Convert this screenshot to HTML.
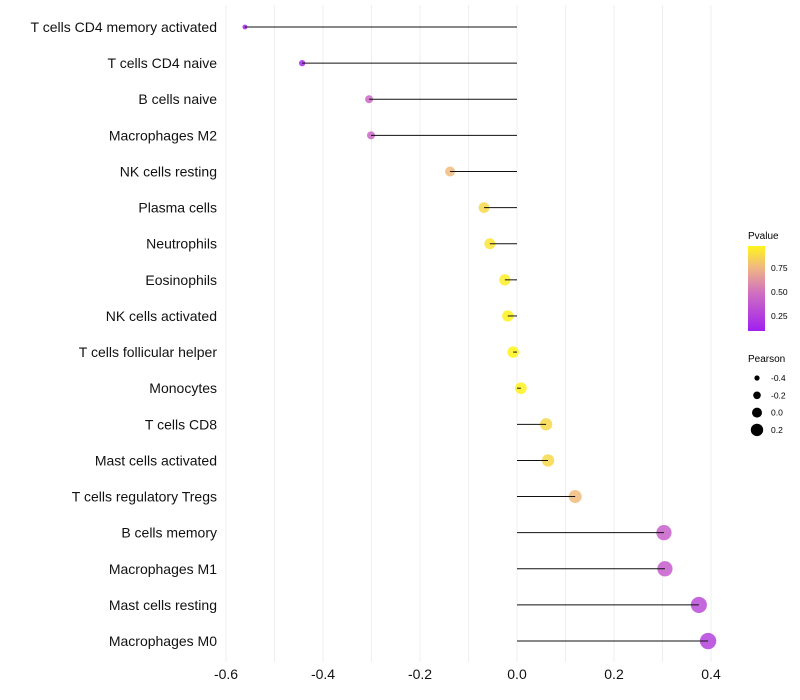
<!DOCTYPE html>
<html><head><meta charset="utf-8"><style>
body{margin:0;background:#fff;font-family:"Liberation Sans",sans-serif;}
svg{display:block}
</style></head><body>
<svg id="chart" width="800" height="700" xmlns="http://www.w3.org/2000/svg">
<defs><linearGradient id="pg" x1="0" y1="1" x2="0" y2="0">
<stop offset="0" stop-color="#a020f0"/><stop offset="0.45" stop-color="#d070c0"/><stop offset="0.75" stop-color="#f0b880"/><stop offset="1" stop-color="#fff51a"/></linearGradient></defs>
<g id="grid"></g><g id="marks"></g><g id="labels"></g>
<g>
<text x="748" y="239" font-size="10">Pvalue</text>
<rect x="748" y="246" width="17" height="85" fill="url(#pg)"/>
<text x="771" y="271" font-size="8.5">0.75</text>
<text x="771" y="295" font-size="8.5">0.50</text>
<text x="771" y="319" font-size="8.5">0.25</text>
</g>
<g id="sizeleg">
<text x="748" y="362" font-size="10">Pearson</text>
</g>
</svg>
<script>
const categories=["T cells CD4 memory activated","T cells CD4 naive","B cells naive","Macrophages M2","NK cells resting","Plasma cells","Neutrophils","Eosinophils","NK cells activated","T cells follicular helper","Monocytes","T cells CD8","Mast cells activated","T cells regulatory  Tregs","B cells memory","Macrophages M1","Mast cells resting","Macrophages M0"];
const pearson=[-0.561,-0.443,-0.305,-0.301,-0.138,-0.068,-0.056,-0.025,-0.019,-0.008,0.008,0.060,0.064,0.120,0.303,0.305,0.375,0.394];
const pvalue=[0.10,0.15,0.45,0.45,0.76,0.87,0.92,0.95,0.97,0.98,0.97,0.87,0.87,0.76,0.42,0.40,0.32,0.27];
const xTicks=[-0.6,-0.4,-0.2,0.0,0.2,0.4];
const sizeLegend=[-0.4,-0.2,0.0,0.2];
const NS="http://www.w3.org/2000/svg";
const xs=v=>517+v*485;
const ys=i=>27+i*36.12;
const rs=v=>5.8+v*6;
function col(p){
 const st=[[0.1,[160,32,240]],[0.5,[208,112,192]],[0.75,[240,184,128]],[0.98,[255,245,26]]];
 if(p<=st[0][0])return`rgb(${st[0][1]})`;
 for(let k=1;k<st.length;k++){if(p<=st[k][0]){const t=(p-st[k-1][0])/(st[k][0]-st[k-1][0]);const c=st[k-1][1].map((a,j)=>Math.round(a+(st[k][1][j]-a)*t));return`rgb(${c})`;}}
 return`rgb(${st[3][1]})`;}
function mk(t,a,p){const e=document.createElementNS(NS,t);for(const k in a)e.setAttribute(k,a[k]);p.appendChild(e);return e;}
const grid=document.getElementById('grid'),marks=document.getElementById('marks'),labels=document.getElementById('labels');
for(let v=-0.6;v<=0.41;v+=0.1){const l=mk('line',{x1:xs(v),x2:xs(v),y1:5,y2:662,stroke:'#efefef','stroke-width':1},grid);

}
xTicks.forEach(v=>{const t=mk('text',{x:xs(v),y:679,'font-size':14,'text-anchor':'middle',fill:'#111'},labels);t.textContent=v.toFixed(1);

});
categories.forEach((c,i)=>{const y=ys(i);
const t=mk('text',{x:217,y:y+5,'font-size':14,'text-anchor':'end',fill:'#111'},labels);t.textContent=c;


const d=mk('circle',{cx:xs(pearson[i]),cy:y,r:rs(pearson[i]),fill:col(pvalue[i]),'fill-opacity':0.85},marks);


const l=mk('line',{x1:xs(0),x2:xs(pearson[i]),y1:y,y2:y,stroke:'#111','stroke-width':1},marks);

});
const sl=document.getElementById('sizeleg');
sizeLegend.forEach((v,i)=>{const y=378+i*17.3;
const c=mk('circle',{cx:757,cy:y,r:rs(v)-0.8,fill:'#000'},sl);


const t=mk('text',{x:771,y:y+3,'font-size':8.5},sl);t.textContent=v.toFixed(1);

});
</script>
</body></html>
